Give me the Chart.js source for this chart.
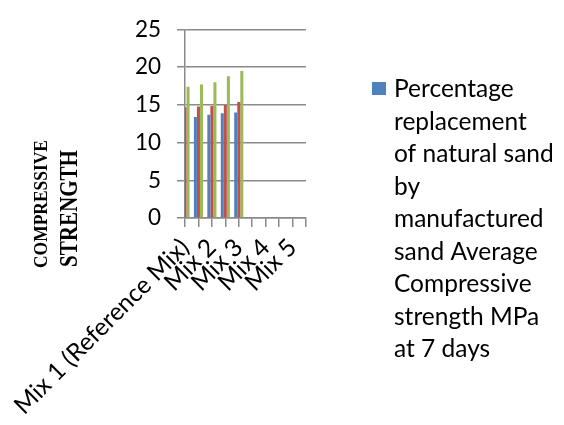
<!DOCTYPE html>
<html><head><meta charset="utf-8">
<script src="https://cdn.jsdelivr.net/npm/chart.js@4.4.1/dist/chart.umd.min.js"></script>
<style>html,body{margin:0;padding:0;background:#fff}#wrap{position:relative;width:564px;height:425px}</style>
</head><body><div id="wrap"><canvas id="c" width="564" height="425"></canvas></div>
<script>
const categories = ["Mix 1 (Reference Mix)", "", "Mix 2", "", "Mix 3", "", "Mix 4", "", "Mix 5", ""];
const seriesBlue = [13.2, 13.4, 13.7, 13.9, 14.0, null, null, null, null, null];
const seriesRed = [14.7, 14.8, 14.85, 15.0, 15.4, null, null, null, null, null];
const seriesGreen = [17.4, 17.7, 18.0, 18.8, 19.5, null, null, null, null, null];
const yTicks = [0, 5, 10, 15, 20, 25];
const legendLines = ["Percentage", "replacement", "of natural sand", "by", "manufactured", "sand Average", "Compressive", "strength MPa", "at 7 days"];
const yTitleLines = ["COMPRESSIVE", "STRENGTH"];

const GRID = '#8a8a8a';
const FONT = 'Lato';

const titlePlugin = {
  id: 'ytitle',
  afterDraw(chart) {
    const ctx = chart.ctx;
    const specs = [
      { text: yTitleLines[0], x: 46.5, y: 268, size: 18, len: 128 },
      { text: yTitleLines[1], x: 76.5, y: 267, size: 25, len: 117 }
    ];
    specs.forEach(s => {
      ctx.save();
      ctx.font = 'bold ' + s.size + 'px "Liberation Serif"';
      ctx.fillStyle = '#000';
      ctx.textAlign = 'left';
      ctx.textBaseline = 'alphabetic';
      const w = ctx.measureText(s.text).width;
      ctx.translate(s.x, s.y);
      ctx.rotate(-Math.PI / 2);
      ctx.scale(s.len / w, 1);
      ctx.fillText(s.text, 0, 0);
      ctx.restore();
    });
  }
};

const legendPlugin = {
  id: 'sideLegend',
  afterDraw(chart) {
    const ctx = chart.ctx;
    const ds = chart.data.datasets[0];
    ctx.save();
    ctx.fillStyle = ds.backgroundColor;
    ctx.fillRect(372, 82, 14, 13);
    ctx.fillStyle = '#000';
    ctx.font = '24.5px ' + FONT;
    ctx.textAlign = 'left';
    ctx.textBaseline = 'alphabetic';
    legendLines.forEach((t, i) => ctx.fillText(t, 394, 97 + i * 32.5));
    ctx.restore();
  }
};

new Chart(document.getElementById('c'), {
  type: 'bar',
  data: {
    labels: categories,
    datasets: [
      { label: legendLines.join(' '), data: seriesBlue, backgroundColor: '#4F81BD' },
      { label: 'Series 2', data: seriesRed, backgroundColor: '#C0504D' },
      { label: 'Series 3', data: seriesGreen, backgroundColor: '#9BBB59' }
    ]
  },
  options: {
    responsive: false,
    animation: false,
    devicePixelRatio: 1,
    layout: { padding: { left: 0, top: 20, right: 258, bottom: 0 } },
    datasets: { bar: { categoryPercentage: 0.68, barPercentage: 1.0 } },
    plugins: { legend: { display: false }, tooltip: { enabled: false } },
    scales: {
      x: {
        offset: false,
        grid: { offset: false, drawOnChartArea: false, drawTicks: true, tickLength: 9, color: GRID, lineWidth: 1.5 },
        border: { color: GRID, width: 1.5 },
        ticks: { autoSkip: false, maxRotation: 45, minRotation: 45, font: { family: FONT, size: 24.5 }, color: '#000', padding: 6 },
        afterFit(s) { s.paddingLeft = 0; s.paddingRight = 0; s.height = 425 - 218; }
      },
      y: {
        min: 0, max: 25,
        afterBuildTicks(s) { s.ticks = yTicks.map(v => ({ value: v })); },
        grid: { color: GRID, lineWidth: 1.5, tickLength: 8 },
        border: { color: GRID, width: 1.5 },
        ticks: { font: { family: FONT, size: 22.5 }, color: '#000', padding: 16 },
        afterFit(s) { s.width = 185; }
      }
    }
  },
  plugins: [titlePlugin, legendPlugin]
});
</script></body></html>
